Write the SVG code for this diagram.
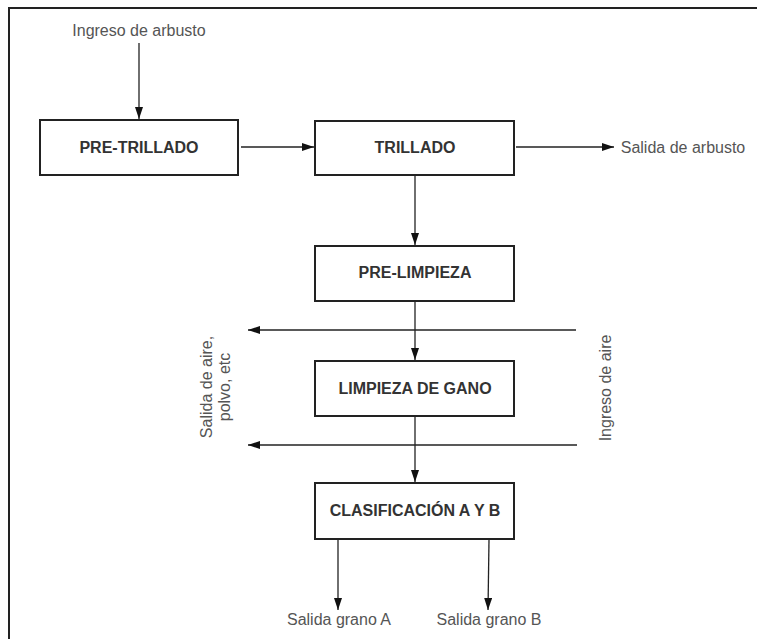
<svg xmlns="http://www.w3.org/2000/svg" width="757" height="639" viewBox="0 0 757 639">
<style>
.box{fill:#fff;stroke:#222;stroke-width:2}
.bt{font-family:"Liberation Sans",Arial,sans-serif;font-size:16px;font-weight:bold;fill:#333;text-anchor:middle}
.lb{font-family:"Liberation Sans",Arial,sans-serif;font-size:16px;fill:#555;text-anchor:middle}
.cn{stroke:#222;stroke-width:1.3;fill:none;marker-end:url(#ah)}
</style>
<defs>
<marker id="ah" viewBox="0 0 12 8" refX="12" refY="4" markerWidth="12" markerHeight="8" markerUnits="userSpaceOnUse" orient="auto">
<path d="M0,0 L12,4 L0,8 Z" fill="#111"/>
</marker>
</defs>
<rect width="757" height="639" fill="#fff"/>
<path d="M9,639 V8 H757" fill="none" stroke="#222" stroke-width="2"/>
<g id="connectors">
<line class="cn" x1="139" y1="43" x2="139" y2="119"/>
<line class="cn" x1="241" y1="147" x2="314" y2="147"/>
<line class="cn" x1="516" y1="147" x2="614" y2="147"/>
<line class="cn" x1="415" y1="176" x2="415" y2="245"/>
<line class="cn" x1="415" y1="302" x2="415" y2="360"/>
<line class="cn" x1="576" y1="330" x2="248" y2="330"/>
<line class="cn" x1="415" y1="417" x2="415" y2="482"/>
<line class="cn" x1="577" y1="445" x2="248" y2="445"/>
<line class="cn" x1="338" y1="540" x2="338" y2="610"/>
<line class="cn" x1="489" y1="540" x2="488" y2="610"/>
</g>
<g id="pre-trillado">
<rect class="box" x="40" y="120" width="198" height="55"/>
<text class="bt" x="139" y="153">PRE-TRILLADO</text>
</g>
<g id="trillado">
<rect class="box" x="315" y="121" width="199" height="54"/>
<text class="bt" x="415" y="153">TRILLADO</text>
</g>
<g id="pre-limpieza">
<rect class="box" x="315" y="246" width="199" height="55"/>
<text class="bt" x="415" y="278">PRE-LIMPIEZA</text>
</g>
<g id="limpieza">
<rect class="box" x="315" y="361" width="199" height="55"/>
<text class="bt" x="415" y="394">LIMPIEZA DE GANO</text>
</g>
<g id="clasificacion">
<rect class="box" x="315" y="483" width="199" height="56"/>
<text class="bt" x="415" y="516">CLASIFICACIÓN A Y B</text>
</g>
<g id="labels">
<text class="lb" x="139" y="36">Ingreso de arbusto</text>
<text class="lb" x="683" y="153">Salida de arbusto</text>
<text class="lb" x="339" y="625">Salida grano A</text>
<text class="lb" x="489" y="625">Salida grano B</text>
<text class="lb" transform="translate(212,387) rotate(-90)">Salida de aire,</text>
<text class="lb" transform="translate(230,387) rotate(-90)">polvo, etc</text>
<text class="lb" transform="translate(611,388) rotate(-90)">Ingreso de aire</text>
</g>
</svg>
